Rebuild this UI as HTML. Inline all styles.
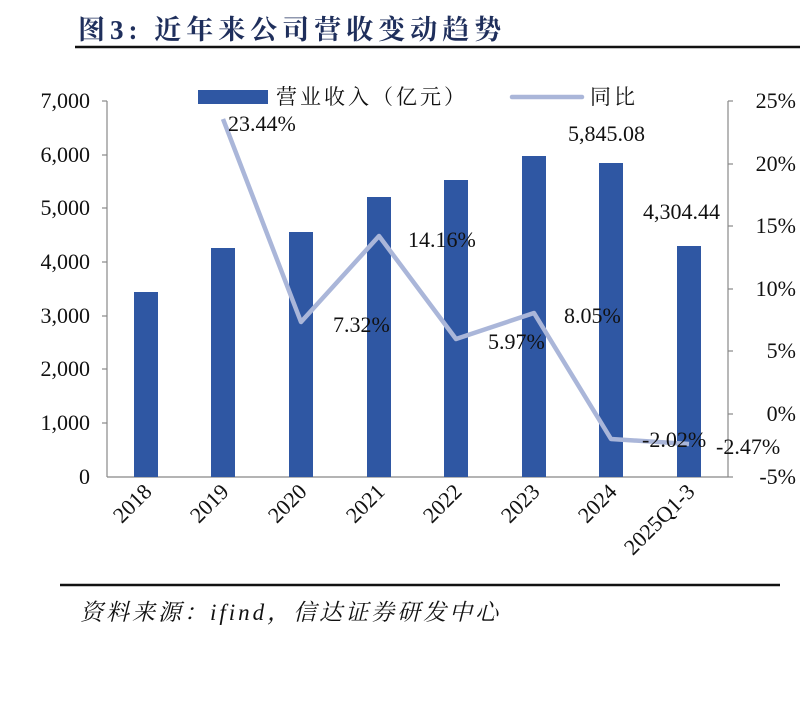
<!DOCTYPE html>
<html><head><meta charset="utf-8"><style>
body{margin:0;background:#fff;width:800px;height:709px;overflow:hidden}
svg text{font-family:"Liberation Serif","Noto Serif CJK SC",serif}
</style></head><body>
<svg width="800" height="709" viewBox="0 0 800 709" xmlns="http://www.w3.org/2000/svg">
<text x="78" y="39" font-size="27" font-weight="bold" fill="#1f2f5c" letter-spacing="5">图3: 近年来公司营收变动趋势</text>
<line x1="75" y1="47" x2="800" y2="47" stroke="#111" stroke-width="2.5"/>
<g stroke="#888" stroke-width="1.2">
<line x1="107" y1="101" x2="107" y2="477"/>
<line x1="107" y1="477" x2="728" y2="477"/>
<line x1="728" y1="101" x2="728" y2="477"/>
<line x1="102" y1="101" x2="107" y2="101"/><line x1="102" y1="155" x2="107" y2="155"/><line x1="102" y1="208" x2="107" y2="208"/><line x1="102" y1="262" x2="107" y2="262"/><line x1="102" y1="316" x2="107" y2="316"/><line x1="102" y1="369" x2="107" y2="369"/><line x1="102" y1="423" x2="107" y2="423"/>
<line x1="728" y1="101" x2="733" y2="101"/><line x1="728" y1="164" x2="733" y2="164"/><line x1="728" y1="226" x2="733" y2="226"/><line x1="728" y1="289" x2="733" y2="289"/><line x1="728" y1="351" x2="733" y2="351"/><line x1="728" y1="414" x2="733" y2="414"/><line x1="728" y1="477" x2="733" y2="477"/>
</g>
<g font-size="22" fill="#111" text-anchor="end">
<text x="90" y="108">7,000</text><text x="90" y="162">6,000</text><text x="90" y="215">5,000</text><text x="90" y="269">4,000</text><text x="90" y="323">3,000</text><text x="90" y="376">2,000</text><text x="90" y="430">1,000</text><text x="90" y="484">0</text>
</g>
<g font-size="22" fill="#111" text-anchor="end">
<text x="796" y="108">25%</text><text x="796" y="171">20%</text><text x="796" y="233">15%</text><text x="796" y="296">10%</text><text x="796" y="358">5%</text><text x="796" y="421">0%</text><text x="796" y="484">-5%</text>
</g>
<g fill="#2f57a3">
<rect x="134" y="292" width="24" height="185"/>
<rect x="211" y="248" width="24" height="229"/>
<rect x="289" y="232" width="24" height="245"/>
<rect x="367" y="197" width="24" height="280"/>
<rect x="444" y="180" width="24" height="297"/>
<rect x="522" y="156" width="24" height="321"/>
<rect x="599" y="163" width="24" height="314"/>
<rect x="677" y="246" width="24" height="231"/>
</g>
<polyline points="223,119 301,322 379,236 456,339 534,313 611,439 689,444" fill="none" stroke="#aab6d9" stroke-width="4.5" stroke-linejoin="round"/>
<g font-size="22" fill="#111">
<text x="228" y="131">23.44%</text>
<text x="333" y="332">7.32%</text>
<text x="408" y="247">14.16%</text>
<text x="488" y="349">5.97%</text>
<text x="564" y="323">8.05%</text>
<text x="568" y="141">5,845.08</text>
<text x="643" y="219">4,304.44</text>
<text x="642" y="447">-2.02%</text>
<text x="716" y="454">-2.47%</text>
</g>
<rect x="198" y="90" width="70" height="14" fill="#2f57a3"/>
<text x="276" y="104" font-size="21" fill="#111" letter-spacing="3">营业收入（亿元）</text>
<line x1="512" y1="97" x2="582" y2="97" stroke="#aab6d9" stroke-width="4.5" stroke-linecap="round"/>
<text x="590" y="104" font-size="21" fill="#111" letter-spacing="3">同比</text>
<g font-size="22" fill="#111" text-anchor="end">
<text transform="translate(153,493) rotate(-45)">2018</text>
<text transform="translate(230,493) rotate(-45)">2019</text>
<text transform="translate(308,493) rotate(-45)">2020</text>
<text transform="translate(386,493) rotate(-45)">2021</text>
<text transform="translate(463,493) rotate(-45)">2022</text>
<text transform="translate(541,493) rotate(-45)">2023</text>
<text transform="translate(618,493) rotate(-45)">2024</text>
<text transform="translate(696,493) rotate(-45)">2025Q1-3</text>
</g>
<line x1="60" y1="585" x2="780" y2="585" stroke="#111" stroke-width="2.5"/>
<text x="80" y="620" font-size="23" font-style="italic" fill="#111" letter-spacing="3">资料来源：ifind，信达证券研发中心</text>
</svg>
</body></html>
